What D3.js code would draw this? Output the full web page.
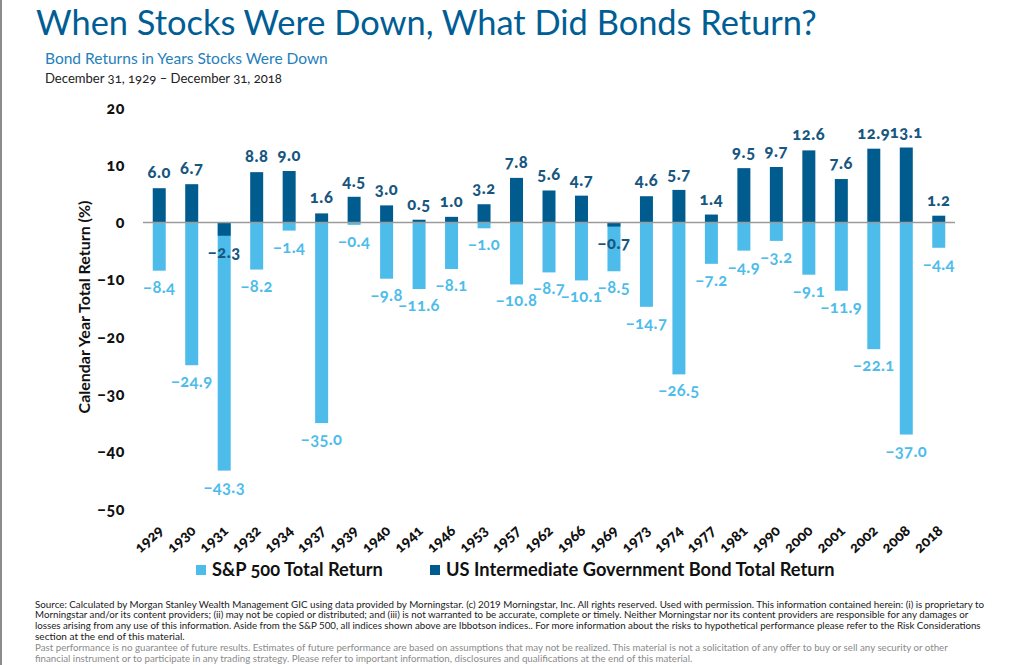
<!DOCTYPE html>
<html>
<head>
<meta charset="utf-8">
<script src="https://cdn.jsdelivr.net/npm/d3@7/dist/d3.min.js"></script>
<style>
  html, body { margin: 0; padding: 0; background: #fff; }
  svg { display: block; }
  .onum { font-variant-numeric: oldstyle-nums; font-feature-settings: "onum" 1; }
</style>
</head>
<body>
<svg id="chart" width="1024" height="665"></svg>
<script>
const years = ["1929","1930","1931","1932","1934","1937","1939","1940","1941","1946","1953","1957","1962","1966","1969","1973","1974","1977","1981","1990","2000","2001","2002","2008","2018"];
const spReturns = [-8.4,-24.9,-43.3,-8.2,-1.4,-35.0,-0.4,-9.8,-11.6,-8.1,-1.0,-10.8,-8.7,-10.1,-8.5,-14.7,-26.5,-7.2,-4.9,-3.2,-9.1,-11.9,-22.1,-37.0,-4.4];
const bondReturns = [6.0,6.7,-2.3,8.8,9.0,1.6,4.5,3.0,0.5,1.0,3.2,7.8,5.6,4.7,-0.7,4.6,5.7,1.4,9.5,9.7,12.6,7.6,12.9,13.1,1.2];
const yTicks = [20,10,0,-10,-20,-30,-40,-50];
const seriesNames = ["S&P 500 Total Return", "US Intermediate Government Bond Total Return"];

const title = "When Stocks Were Down, What Did Bonds Return?";
const subtitle = "Bond Returns in Years Stocks Were Down";
const dateRange = "December 31, 1929 \u2013 December 31, 2018";
const yTitle = "Calendar Year Total Return (%)";
const footLines = [
  "Source: Calculated by Morgan Stanley Wealth Management  GIC using data provided by Morningstar. (c) 2019 Morningstar, Inc. All rights reserved. Used with permission. This information contained herein: (i) is proprietary to",
  "Morningstar and/or its content providers; (ii) may not be copied or distributed; and (iii) is not warranted to be accurate, complete or timely. Neither Morningstar nor its content providers are responsible for any damages or",
  "losses arising from any use of this information.  Aside from the S&P 500, all indices shown above are Ibbotson indices.. For more information about the risks to hypothetical performance please refer to the Risk Considerations",
  "section at the end of this material.",
  "Past performance is no guarantee of future results. Estimates of future performance are based on assumptions that may not be realized. This material is not a solicitation of any offer to buy or sell any security or other",
  "financial instrument or to participate in any trading strategy. Please refer to important information, disclosures and qualifications at the end of this material."
];

const C_SP = "#4dbceb", C_BOND = "#005b8e", C_TITLE = "#005e95", C_SUB = "#2580ba";
const svg = d3.select("#chart");
const FONT = "Lato, 'Open Sans', sans-serif";

// left border line
svg.append("rect").attr("x",0).attr("y",0).attr("width",2).attr("height",665).attr("fill","#8c8c8c");

// scale font size so that natural text width matches target width
function fitSize(sel, w, base) {
  sel.style("font-size", base + "px");
  const len = sel.node().getComputedTextLength();
  if (len > 0) sel.style("font-size", (base * w / len) + "px");
}

// titles
svg.append("text").attr("x",36).attr("y",35).attr("fill",C_TITLE)
  .style("font-family",FONT).text(title).call(fitSize, 781, 34);
svg.append("text").attr("x",45).attr("y",64).attr("fill",C_SUB)
  .style("font-family",FONT).text(subtitle).call(fitSize, 283, 16);
svg.append("text").attr("x",45).attr("y",83).attr("fill","#222").attr("class","onum")
  .style("font-family",FONT).text(dateRange).call(fitSize, 237, 14);

// scales
const x = d3.scaleBand().domain(years).range([143, 955]).paddingInner(0.6).paddingOuter(0.3);
const y = d3.scaleLinear().domain([-50, 20]).range([509, 108]);

// y axis (labels only)
const yAxis = d3.axisLeft(y).tickValues(yTicks).tickSize(0).tickPadding(0).tickFormat(d3.format("d"));
const gy = svg.append("g").attr("transform","translate(125,0)").call(yAxis);
gy.select(".domain").remove();
gy.selectAll("text").attr("class","onum").style("font-family",FONT).style("font-size","16px")
  .style("font-weight","900").style("letter-spacing","0.6px").attr("fill","#111");

// y title
svg.append("text").attr("transform","translate(90,307) rotate(-90)").attr("text-anchor","middle")
  .style("font-family",FONT).style("font-weight","700").attr("fill","#111")
  .text(yTitle).call(fitSize, 213, 15);

const data = years.map((yr,i) => ({yr, sp: spReturns[i], bond: bondReturns[i]}));

// S&P bars
svg.append("g").selectAll("rect").data(data).join("rect")
  .attr("x", d => x(d.yr)).attr("width", x.bandwidth())
  .attr("y", d => y(Math.max(0,d.sp))).attr("height", d => Math.abs(y(d.sp)-y(0)))
  .attr("fill", C_SP);

// Bond bars
svg.append("g").selectAll("rect").data(data).join("rect")
  .attr("x", d => x(d.yr)).attr("width", x.bandwidth())
  .attr("y", d => y(Math.max(0,d.bond))).attr("height", d => Math.abs(y(d.bond)-y(0)))
  .attr("fill", C_BOND);

// zero line
svg.append("line").attr("x1",143).attr("x2",955).attr("y1",y(0)).attr("y2",y(0))
  .attr("stroke","#9a9a9a").attr("stroke-width",1.5);

const lblFmt = d3.format(".1f");
// S&P labels
svg.append("g").selectAll("text").data(data).join("text")
  .attr("class","onum")
  .attr("x", d => x(d.yr)+x.bandwidth()/2).attr("y", d => y(d.sp)+22)
  .attr("text-anchor","middle").attr("fill",C_SP)
  .style("font-family",FONT).style("font-size","16.5px").style("font-weight","700").style("letter-spacing","0.4px")
  .text(d => lblFmt(d.sp));

// Bond labels
svg.append("g").selectAll("text").data(data).join("text")
  .attr("class","onum")
  .attr("x", d => x(d.yr)+x.bandwidth()/2).attr("y", d => d.bond >= 0 ? y(d.bond)-10 : y(d.bond)+22)
  .attr("text-anchor","middle").attr("fill","#17567f")
  .style("font-family",FONT).style("font-size","16.5px").style("font-weight","900").style("letter-spacing","0.6px")
  .text(d => lblFmt(d.bond));

// x labels
svg.append("g").selectAll("text").data(years).join("text")
  .attr("class","onum")
  .attr("transform", d => `translate(${x(d)+x.bandwidth()/2+5},532) rotate(-42)`)
  .attr("text-anchor","end").attr("fill","#111")
  .style("font-family",FONT).style("font-size","15px").style("font-weight","900")
  .text(d => d);

// legend
const leg = [{name: seriesNames[0], c: C_SP, x: 196, w: 171}, {name: seriesNames[1], c: C_BOND, x: 430, w: 389}];
const lg = svg.append("g").selectAll("g").data(leg).join("g");
lg.append("rect").attr("x", d => d.x).attr("y",565).attr("width",10).attr("height",10).attr("fill", d => d.c);
lg.append("text").attr("class","onum").attr("x", d => d.x+16).attr("y",576).attr("fill","#111")
  .style("font-family",FONT).style("font-weight","700")
  .text(d => d.name).each(function(d){ d3.select(this).call(fitSize, d.w, 16); });

// footnotes
const footW = [950, 934, 947, 150, 913, 658];
footLines.forEach((t,i) => {
  svg.append("text").attr("x",35).attr("y",607.5 + i*10.8)
    .attr("fill", i < 4 ? "#1a1a1a" : "#8a8a8a")
    .style("font-family",FONT).text(t).call(fitSize, footW[i], 10);
});
</script>
</body>
</html>
